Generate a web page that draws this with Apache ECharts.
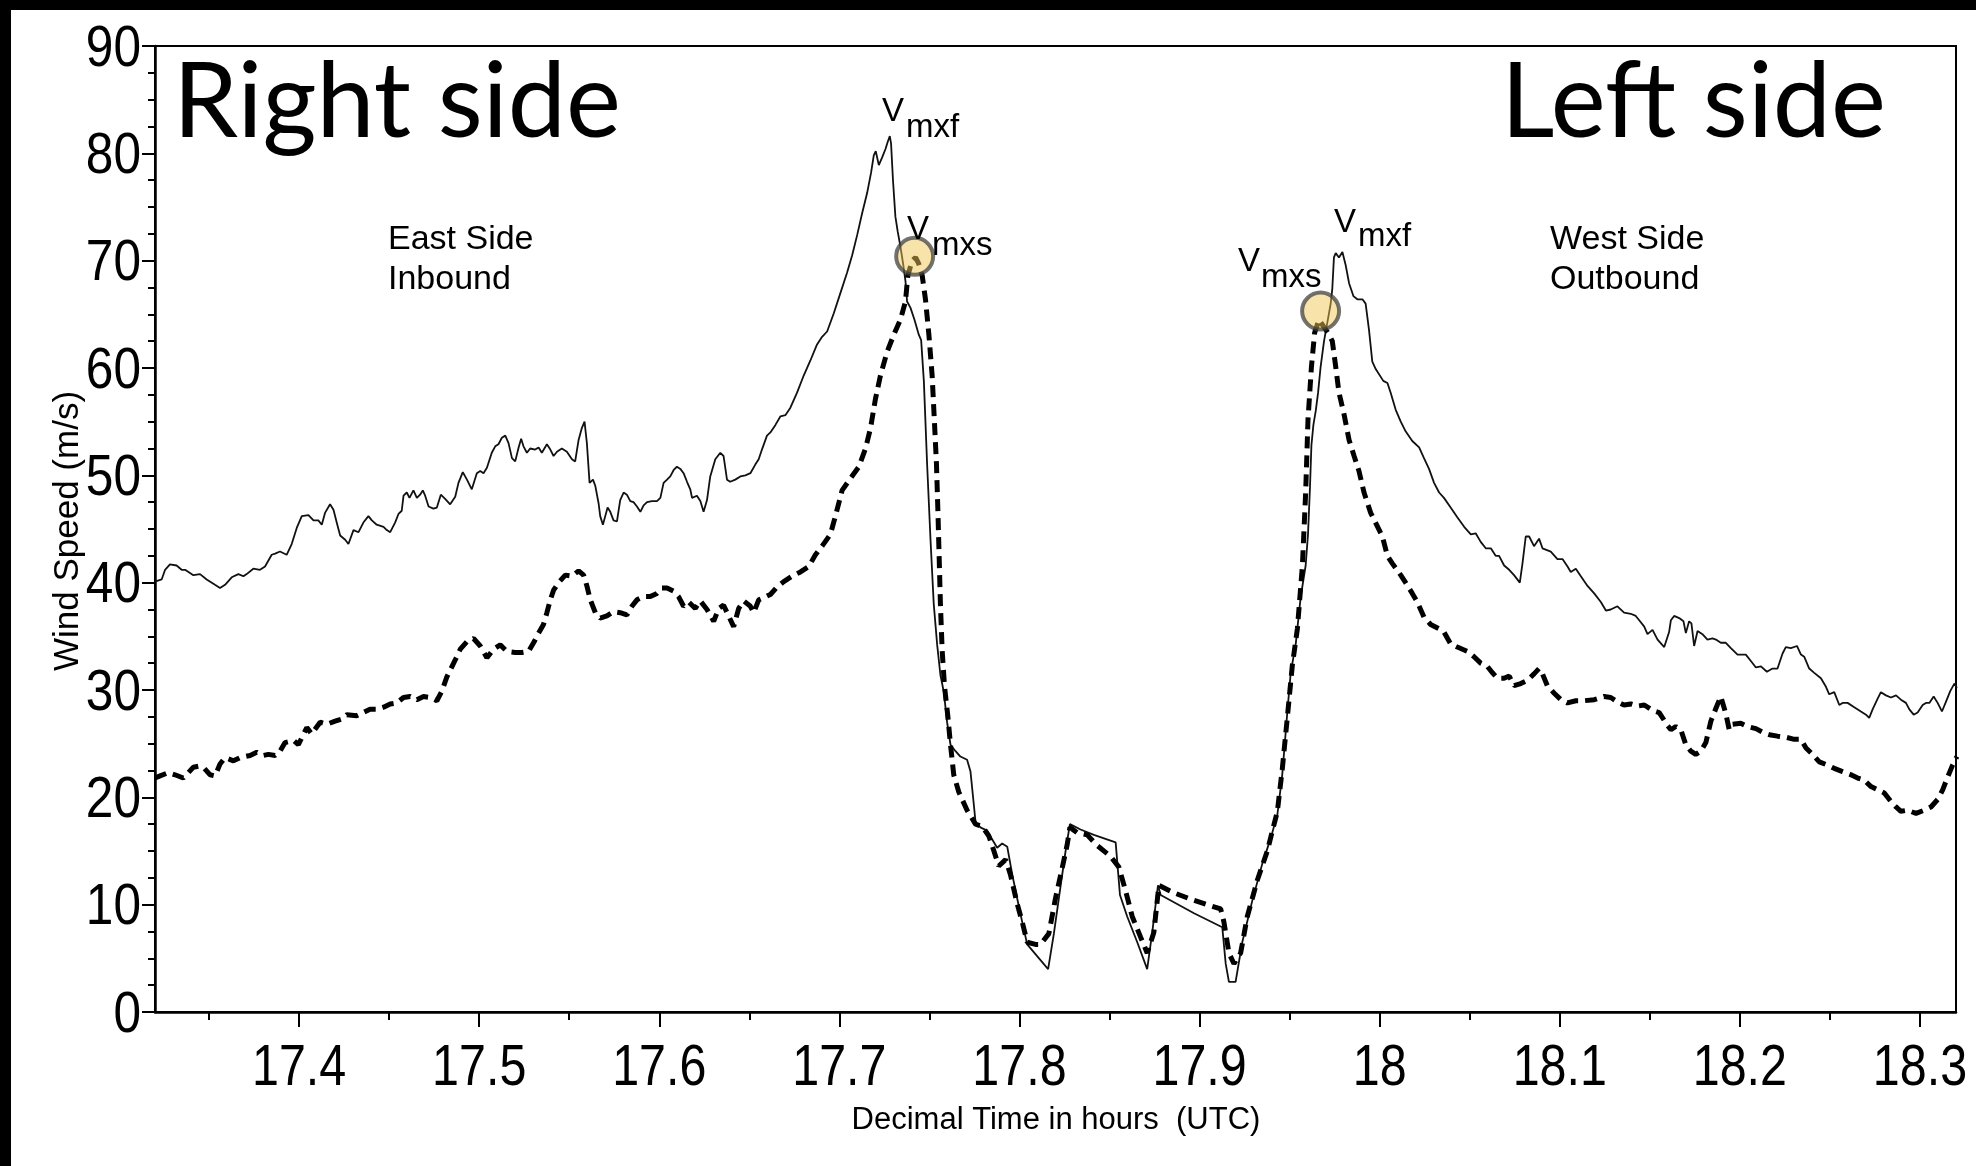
<!DOCTYPE html>
<html><head><meta charset="utf-8">
<script src="https://cdn.jsdelivr.net/npm/echarts@6/dist/echarts.min.js"></script>
<style>html,body{margin:0;padding:0;background:#fff}#c{width:1976px;height:1166px}</style>
</head><body><div id="c"></div>
<script>
// ---------- data ----------
const xRange = [17.32, 18.32];
const yRange = [0, 90];
const xTickLabels = [17.4, 17.5, 17.6, 17.7, 17.8, 17.9, 18.0, 18.1, 18.2, 18.3];
const xMinorTicks = [17.35, 17.45, 17.55, 17.65, 17.75, 17.85, 17.95, 18.05, 18.15, 18.25];
const yTickLabels = [0, 10, 20, 30, 40, 50, 60, 70, 80, 90];

// flight-level wind (solid line) [decimal hour, m/s]
const flightLevelWind = [
[17.3200,40.1],[17.3209,40.2],[17.3237,40.3],[17.3256,41.2],[17.3283,41.7],[17.3320,41.6],[17.3348,41.2],[17.3367,41.2],[17.3413,40.7],[17.3450,40.8],
[17.3487,40.3],[17.3533,39.8],[17.3561,39.5],[17.3589,39.8],[17.3626,40.5],[17.3663,40.8],[17.3691,40.6],[17.3709,40.8],[17.3746,41.3],[17.3783,41.2],
[17.3811,41.5],[17.3848,42.6],[17.3867,42.7],[17.3894,42.9],[17.3931,42.6],[17.3959,43.6],[17.3987,45.1],[17.4015,46.2],[17.4052,46.3],[17.4080,45.8],
[17.4107,45.8],[17.4126,45.4],[17.4144,46.5],[17.4172,47.3],[17.4191,46.8],[17.4209,45.6],[17.4228,44.4],[17.4256,44.0],[17.4274,43.6],[17.4302,44.9],
[17.4330,44.7],[17.4357,45.6],[17.4385,46.2],[17.4404,45.8],[17.4431,45.4],[17.4469,45.2],[17.4487,44.9],[17.4506,44.7],[17.4533,45.6],[17.4552,46.4],
[17.4570,46.7],[17.4580,48.1],[17.4598,48.4],[17.4613,47.9],[17.4635,48.6],[17.4654,47.9],[17.4672,48.2],[17.4687,48.6],[17.4700,48.1],[17.4719,47.1],
[17.4746,46.9],[17.4765,47.0],[17.4787,48.2],[17.4811,47.8],[17.4839,47.3],
[17.4867,48.0],[17.4885,49.3],[17.4909,50.3],[17.4932,49.6],[17.4959,48.7],[17.4987,50.2],[17.5006,50.4],[17.5024,50.2],[17.5043,50.7],[17.5070,52.1],
[17.5089,52.7],[17.5107,52.9],[17.5126,53.5],[17.5145,53.7],[17.5163,53.0],[17.5182,51.6],[17.5200,51.3],[17.5219,52.6],[17.5233,53.4],[17.5246,52.7],
[17.5265,52.1],[17.5283,52.5],[17.5311,52.4],[17.5330,52.6],[17.5348,52.1],[17.5376,52.9],[17.5395,52.4],[17.5413,51.8],[17.5432,52.2],[17.5459,52.5],
[17.5487,52.2],[17.5515,51.5],[17.5533,51.3],[17.5552,53.3],[17.5570,54.4],[17.5585,55.0],[17.5598,53.0],[17.5613,49.3],[17.5632,49.6],[17.5645,49.0],
[17.5663,47.4],[17.5672,46.2],[17.5687,45.4],[17.5700,46.2],[17.5713,47.0],[17.5728,46.6],[17.5746,45.8],[17.5765,45.7],[17.5783,47.7],[17.5802,48.4],
[17.5820,48.2],[17.5839,47.6],[17.5857,47.5],[17.5876,47.1],[17.5895,46.6],[17.5913,47.2],[17.5932,47.5],[17.5959,47.6],[17.5987,47.6],[17.6006,47.9],
[17.6024,49.3],[17.6043,49.6],[17.6061,49.9],[17.6080,50.5],[17.6098,50.8],[17.6117,50.6],[17.6135,50.2],[17.6154,49.4],[17.6172,48.7],[17.6182,47.9],
[17.6209,48.1],[17.6228,47.6],[17.6246,46.6],[17.6265,47.7],[17.6283,49.9],[17.6311,51.5],[17.6339,52.1],[17.6357,51.8],[17.6376,49.6],[17.6394,49.4],
[17.6422,49.6],[17.6450,49.9],[17.6478,50.0],[17.6506,50.2],[17.6533,51.0],[17.6552,51.5],[17.6570,52.4],[17.6598,53.7],[17.6617,54.0],
[17.6645,54.7],[17.6673,55.5],[17.6700,55.6],[17.6728,56.3],[17.6765,57.7],[17.6802,59.3],[17.6839,60.7],[17.6876,62.2],[17.6904,62.9],[17.6932,63.4],
[17.6969,65.1],[17.7006,67.0],[17.7043,68.9],[17.7071,70.5],[17.7099,72.4],[17.7126,74.4],[17.7154,76.3],[17.7176,78.2],[17.7191,79.8],[17.7202,80.2],
[17.7219,78.9],[17.7237,79.6],[17.7256,80.4],[17.7269,81.1],[17.7280,81.6],[17.7287,80.9],[17.7298,77.4],[17.7311,74.1],[17.7324,72.7],[17.7339,71.3],
[17.7354,69.7],[17.7367,68.1],[17.7376,66.2],[17.7395,65.6],[17.7417,64.5],[17.7441,63.1],[17.7454,62.6],[17.7469,58.8],[17.7487,51.1],[17.7506,44.0],
[17.7524,38.0],[17.7543,34.2],[17.7561,31.4],[17.7580,29.8],[17.7598,27.0],[17.7617,24.9],[17.7645,24.3],[17.7672,23.8],[17.7709,23.5],[17.7728,22.4],
[17.7746,19.4],[17.7756,17.7],[17.7783,17.2],[17.7820,16.9],[17.7848,16.1],[17.7876,15.3],[17.7904,15.7],[17.7932,15.4],[17.7960,12.8],[17.7987,10.6],
[17.8015,8.4],[17.8043,6.3],[17.8098,5.2],[17.8159,4.0],[17.8191,7.3],[17.8228,11.7],[17.8256,15.0],[17.8280,17.5],
[17.8339,17.0],[17.8413,16.5],[17.8534,15.8],[17.8558,10.9],[17.8598,8.9],[17.8654,6.5],[17.8709,4.0],[17.8737,7.4],[17.8769,11.8],[17.8784,10.9],
[17.8969,9.2],[17.9126,7.9],[17.9145,4.5],[17.9163,2.8],[17.9200,2.8],[17.9237,6.5],[17.9293,10.4],[17.9348,13.8],[17.9395,16.2],[17.9432,18.4],
[17.9459,22.1],[17.9487,27.9],[17.9506,31.6],[17.9534,34.3],[17.9561,38.6],[17.9589,41.6],[17.9602,44.5],[17.9613,48.9],[17.9621,52.8],[17.9632,54.7],
[17.9645,56.0],[17.9658,57.7],[17.9672,60.1],[17.9691,62.5],[17.9709,64.2],[17.9728,66.0],[17.9737,67.4],[17.9746,70.3],[17.9756,70.7],[17.9774,70.3],
[17.9793,70.8],[17.9811,69.6],[17.9830,67.9],[17.9854,66.7],[17.9876,66.4],[17.9904,66.4],[17.9922,66.0],[17.9941,63.5],[17.9959,60.6],[17.9978,59.9],
[18.0020,58.8],[18.0043,58.6],[18.0061,57.7],[18.0089,56.1],[18.0117,55.0],[18.0144,54.1],[18.0181,53.2],[18.0219,52.6],[18.0246,51.6],[18.0274,50.6],
[18.0302,49.3],[18.0330,48.4],[18.0357,47.9],[18.0394,47.0],[18.0431,46.1],[18.0469,45.2],[18.0506,44.5],[18.0533,44.6],[18.0561,43.8],[18.0589,43.2],
[18.0617,43.2],[18.0644,42.5],[18.0663,42.5],[18.0691,41.6],[18.0719,41.2],[18.0746,40.7],[18.0778,40.0],[18.0793,41.8],[18.0811,44.3],[18.0830,44.3],
[18.0857,43.4],[18.0885,44.1],[18.0904,43.2],[18.0950,42.9],[18.0987,42.2],[18.1015,42.2],[18.1043,41.5],[18.1061,41.0],[18.1089,41.3],[18.1117,40.6],
[18.1154,39.7],[18.1191,39.0],[18.1228,38.2],[18.1256,37.4],[18.1283,37.5],[18.1320,37.8],[18.1357,37.2],[18.1394,37.1],[18.1422,36.9],[18.1441,36.5],
[18.1469,35.9],[18.1487,35.2],[18.1515,35.6],[18.1543,34.7],[18.1580,34.0],[18.1607,35.4],[18.1617,36.5],
[18.1635,36.9],[18.1663,36.7],[18.1687,36.4],[18.1700,35.3],[18.1718,36.4],[18.1731,36.2],[18.1746,34.1],[18.1765,35.5],[18.1792,35.2],[18.1820,34.7],
[18.1848,34.8],[18.1867,34.7],[18.1894,34.4],[18.1922,34.4],[18.1950,33.9],[18.1987,33.3],[18.2033,33.3],[18.2061,32.7],[18.2089,32.1],[18.2117,32.2],
[18.2150,31.7],[18.2181,32.0],[18.2209,32.0],[18.2237,33.4],[18.2255,34.0],[18.2283,33.9],[18.2317,34.1],[18.2339,33.3],[18.2357,33.1],[18.2385,32.0],
[18.2413,31.6],[18.2450,31.1],[18.2478,30.3],[18.2496,29.6],[18.2524,29.8],[18.2552,28.6],[18.2570,28.8],[18.2598,28.8],[18.2635,28.4],[18.2672,28.0],
[18.2700,27.7],[18.2718,27.4],[18.2737,28.2],[18.2765,29.2],[18.2783,29.8],[18.2811,29.5],[18.2839,29.3],[18.2867,29.5],[18.2894,29.1],[18.2922,28.8],
[18.2941,28.2],[18.2965,27.7],[18.2987,27.9],[18.3015,28.6],[18.3033,28.8],[18.3052,28.8],[18.3076,29.4],[18.3098,28.8],[18.3122,28.0],[18.3144,28.9],
[18.3168,29.9],[18.3191,30.6],[18.3205,30.2]
];

// surface wind (dashed line) [decimal hour, m/s]
const surfaceWind = [
[17.3200,21.8],[17.3228,22.0],[17.3274,22.3],[17.3311,22.1],[17.3357,21.8],[17.3413,22.8],[17.3441,22.9],[17.3469,22.8],[17.3506,22.1],[17.3533,22.0],
[17.3561,23.1],[17.3589,23.7],[17.3635,23.4],[17.3672,23.7],[17.3728,23.9],[17.3765,24.2],[17.3802,23.9],[17.3830,24.0],[17.3867,23.9],[17.3894,24.3],
[17.3922,25.1],[17.3969,25.3],[17.3996,24.9],[17.4043,26.5],[17.4070,25.9],[17.4117,27.0],[17.4154,26.8],[17.4200,27.1],[17.4237,27.3],[17.4265,27.7],
[17.4320,27.6],[17.4357,27.9],[17.4394,28.2],[17.4431,28.2],[17.4469,28.4],[17.4506,28.7],[17.4543,28.8],[17.4580,29.3],[17.4617,29.4],[17.4654,29.1],
[17.4691,29.4],[17.4728,29.3],[17.4765,29.0],[17.4793,29.9],[17.4820,31.2],
[17.4867,32.8],[17.4895,33.8],[17.4932,34.5],[17.4969,34.8],[17.5006,34.1],[17.5043,33.0],[17.5080,33.8],[17.5117,34.2],[17.5154,33.6],[17.5200,33.5],
[17.5237,33.5],[17.5274,33.6],[17.5302,34.4],[17.5330,35.3],[17.5357,36.1],[17.5376,37.2],[17.5395,38.4],[17.5413,39.3],[17.5441,40.0],[17.5478,40.7],
[17.5515,40.6],[17.5552,41.1],[17.5580,40.7],[17.5598,39.7],[17.5617,38.4],[17.5645,37.2],[17.5672,36.7],[17.5709,36.9],[17.5746,37.3],[17.5783,37.2],
[17.5820,37.0],[17.5848,37.8],[17.5876,38.4],[17.5913,38.7],[17.5950,38.7],[17.5987,39.0],[17.6015,39.5],[17.6043,39.5],[17.6080,39.2],[17.6107,38.7],
[17.6135,37.8],[17.6163,38.2],[17.6200,37.6],[17.6228,38.3],[17.6265,37.5],[17.6302,36.4],[17.6330,37.6],[17.6357,37.9],[17.6385,36.9],[17.6413,35.9],
[17.6441,37.6],[17.6469,38.3],[17.6506,37.8],[17.6524,37.2],[17.6552,38.4],[17.6580,38.6],[17.6617,38.9],
[17.6654,39.6],[17.6691,40.1],[17.6737,40.6],[17.6784,41.0],[17.6830,41.5],[17.6867,42.6],[17.6904,43.4],[17.6950,44.5],[17.6978,46.2],[17.7015,48.6],
[17.7061,49.7],[17.7108,50.8],[17.7145,52.5],[17.7173,54.4],[17.7200,57.1],[17.7228,59.3],[17.7265,61.5],[17.7302,63.1],[17.7339,64.5],[17.7367,66.2],
[17.7380,68.6],[17.7404,70.0],[17.7423,70.3],[17.7441,69.7],[17.7460,68.6],[17.7478,66.4],[17.7497,63.1],[17.7515,59.3],[17.7528,54.9],[17.7539,51.1],
[17.7547,46.7],[17.7554,42.4],[17.7561,38.0],[17.7571,33.6],[17.7584,30.3],[17.7602,27.6],[17.7617,24.9],[17.7635,22.1],[17.7663,20.5],[17.7709,18.8],
[17.7756,17.5],[17.7793,17.3],[17.7830,16.4],[17.7858,15.0],[17.7885,13.6],[17.7923,14.2],[17.7950,12.8],[17.7987,10.1],[17.8015,8.4],[17.8043,6.5],
[17.8089,6.3],[17.8117,6.3],[17.8163,7.3],[17.8200,10.6],[17.8237,13.4],[17.8265,15.6],[17.8280,17.2],
[17.8321,16.7],[17.8376,16.5],[17.8432,15.5],[17.8506,14.5],[17.8552,13.5],[17.8589,11.3],[17.8626,8.9],[17.8672,7.0],[17.8709,5.5],[17.8746,7.4],
[17.8774,11.8],[17.8858,11.1],[17.8969,10.4],[17.9117,9.6],[17.9135,8.4],[17.9163,5.5],[17.9191,4.5],[17.9228,5.5],[17.9265,8.9],[17.9321,12.3],
[17.9376,15.0],[17.9432,18.7],[17.9459,22.6],[17.9487,27.4],[17.9515,32.3],[17.9543,35.7],[17.9571,41.6],[17.9589,48.4],[17.9602,55.2],[17.9621,60.1],
[17.9639,63.3],[17.9663,64.5],[17.9691,63.8],[17.9719,63.1],[17.9737,62.5],[17.9756,60.1],[17.9774,57.7],[17.9802,55.7],[17.9830,53.3],[17.9858,51.8],
[17.9885,50.4],[17.9913,48.4],[17.9950,46.5],
[18.0015,44.3],[18.0043,42.5],[18.0070,41.8],[18.0117,40.7],[18.0144,40.0],[18.0181,39.0],[18.0209,38.2],[18.0246,36.8],[18.0283,36.1],[18.0330,35.7],
[18.0357,35.4],[18.0394,34.3],[18.0431,34.0],[18.0487,33.6],[18.0524,33.1],[18.0561,32.5],[18.0598,32.2],[18.0626,31.6],[18.0654,31.1],[18.0691,31.1],
[18.0719,31.3],[18.0746,30.4],[18.0783,30.6],[18.0820,30.9],[18.0857,31.5],[18.0885,32.0],[18.0904,31.5],[18.0931,30.4],[18.0969,29.7],[18.1006,29.1],
[18.1043,28.8],[18.1089,29.0],[18.1135,29.0],[18.1191,29.1],[18.1246,29.4],[18.1283,29.3],[18.1320,28.9],[18.1357,28.6],[18.1394,28.7],[18.1431,28.5],
[18.1469,28.6],[18.1515,28.1],[18.1552,27.9],[18.1598,26.7],[18.1617,26.3],
[18.1644,26.6],[18.1672,26.3],[18.1700,24.9],[18.1728,24.3],[18.1755,24.0],[18.1783,24.3],[18.1811,25.1],[18.1839,27.1],[18.1867,28.3],[18.1894,29.4],
[18.1922,27.8],[18.1941,26.3],[18.1959,26.8],[18.2005,26.9],[18.2042,26.6],[18.2089,26.4],[18.2135,26.0],[18.2172,25.8],[18.2209,25.7],[18.2255,25.6],
[18.2302,25.4],[18.2339,25.4],[18.2367,24.6],[18.2404,24.0],[18.2441,23.3],[18.2487,23.0],[18.2524,22.7],[18.2570,22.4],[18.2617,22.1],[18.2654,21.8],
[18.2691,21.6],[18.2728,21.0],[18.2765,20.7],[18.2802,20.4],[18.2839,19.6],[18.2867,19.1],[18.2894,18.7],[18.2931,18.8],[18.2978,18.5],[18.3024,18.8],
[18.3061,19.1],[18.3098,19.8],[18.3126,20.7],[18.3154,21.9],[18.3181,23.0],[18.3205,23.8]
];

// surface maxima (circled)
const vmxsPoints = [[17.7418, 70.4], [17.9672, 65.3]];

// annotation texts
const sideTitles = ['Right side', 'Left side'];
const passNotes = [['East Side', 'Inbound'], ['West Side', 'Outbound']];
const peakLabels = [['V', 'mxf'], ['V', 'mxs'], ['V', 'mxs'], ['V', 'mxf']];
const axisNames = ['Decimal Time in hours  (UTC)', 'Wind Speed (m/s)'];

// ---------- chart ----------
const textFont = "'Liberation Sans', Arial, sans-serif";
const chart = echarts.init(document.getElementById('c'), null, {renderer: 'canvas'});

function txt(text, x, y, size, family, align, extra) {
  const el = {type: 'text', x: x, y: y, z: 100,
    style: {text: text, fontSize: size, fontFamily: family, fill: '#000',
            align: align || 'left', verticalAlign: 'middle'}};
  return Object.assign(el, extra || {});
}

const labelPos = [
  {vx: 882, vy: 112, sx: 906, sy: 128},
  {vx: 907, vy: 230, sx: 932, sy: 246},
  {vx: 1238, vy: 262, sx: 1261, sy: 278},
  {vx: 1334, vy: 223, sx: 1358, sy: 237}
];
const graphics = [
  {type: 'rect', shape: {x: 0, y: 0, width: 1976, height: 10}, style: {fill: '#000'}, z: 200},
  {type: 'rect', shape: {x: 0, y: 0, width: 11, height: 1166}, style: {fill: '#000'}, z: 200},
  txt(sideTitles[0], 173, 103, 104, 'Lato', 'left'),
  txt(sideTitles[1], 1886, 103, 104, 'Lato', 'right'),
  txt(passNotes[0][0], 388, 240, 34, textFont),
  txt(passNotes[0][1], 388, 280, 34, textFont),
  txt(passNotes[1][0], 1550, 240, 34, textFont),
  txt(passNotes[1][1], 1550, 280, 34, textFont),
  txt(axisNames[0], 1056, 1120, 31, textFont, 'center'),
  txt(axisNames[1], 68, 531, 35, textFont, 'center', {rotation: Math.PI / 2})
];
peakLabels.forEach((p, i) => {
  const q = labelPos[i];
  graphics.push(txt(p[0], q.vx, q.vy, 33, textFont));
  graphics.push(txt(p[1], q.sx, q.sy, 33, textFont));
});

const option = {
  animation: false,
  backgroundColor: '#fff',
  grid: {left: 155, top: 46, right: 20, bottom: 154, show: true, borderColor: '#000', borderWidth: 2, backgroundColor: 'transparent'},
  xAxis: [{
    type: 'value', min: xRange[0], max: xRange[1], position: 'bottom',
    axisLine: {show: true, onZero: false, lineStyle: {color: '#000', width: 2.5}},
    axisTick: {show: true, customValues: xTickLabels, length: 15, lineStyle: {color: '#000', width: 2}},
    axisLabel: {show: false, customValues: xTickLabels},
    splitLine: {show: false}
  }, {
    type: 'value', min: xRange[0], max: xRange[1], position: 'bottom',
    axisLine: {show: false, onZero: false},
    axisTick: {show: true, customValues: xMinorTicks, length: 8, lineStyle: {color: '#000', width: 2}},
    axisLabel: {show: false}, splitLine: {show: false}
  }],
  yAxis: {
    type: 'value', min: yRange[0], max: yRange[1], interval: 10,
    axisLine: {show: true, lineStyle: {color: '#000', width: 2.5}},
    axisTick: {show: true, length: 13, lineStyle: {color: '#000', width: 2}},
    minorTick: {show: true, splitNumber: 4, length: 7, lineStyle: {color: '#000', width: 2}},
    axisLabel: {show: false},
    splitLine: {show: false}, minorSplitLine: {show: false}
  },
  series: [
    {type: 'line', name: 'flight', data: flightLevelWind, showSymbol: false, symbol: 'none',
     lineStyle: {color: '#111', width: 1.8}, z: 3},
    {type: 'line', name: 'surface', data: surfaceWind, showSymbol: false, symbol: 'none',
     lineStyle: {color: '#000', width: 5, type: [12, 7]}, z: 4},
    {type: 'scatter', data: vmxsPoints, symbol: 'circle', symbolSize: 37, z: 10,
     itemStyle: {color: 'rgba(240,200,85,0.62)', borderColor: 'rgba(60,60,60,0.9)', borderWidth: 4}}
  ],
  graphic: graphics
};
chart.setOption(option);

// tick labels placed through the axes' own scales (narrowed glyphs like the original)
const tickFont = "'Liberation Sans', Arial, sans-serif";
const tickGraphics = [];
xTickLabels.forEach(v => {
  const px = chart.convertToPixel({xAxisIndex: 0}, v);
  const py = chart.convertToPixel({yAxisIndex: 0}, yRange[0]);
  tickGraphics.push(txt(String(Math.round(v * 10) / 10), px, py + 57, 57, tickFont, 'center', {scaleX: 0.85}));
});
yTickLabels.forEach(v => {
  const py = chart.convertToPixel({yAxisIndex: 0}, v);
  const px = chart.convertToPixel({xAxisIndex: 0}, xRange[0]);
  tickGraphics.push(txt(String(v), px - 14, py + 4, 57, tickFont, 'right', {scaleX: 0.87}));
});
chart.setOption({graphic: graphics.concat(tickGraphics)});
</script>
</body></html>
